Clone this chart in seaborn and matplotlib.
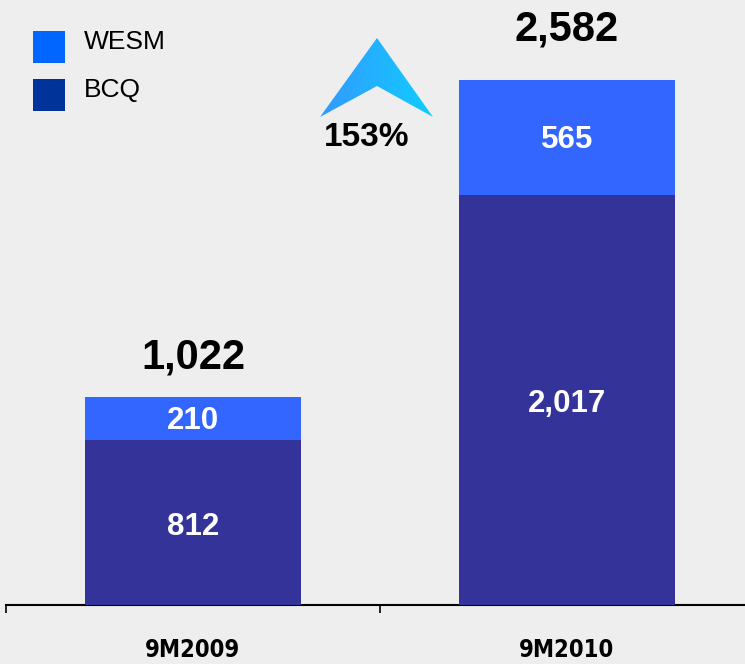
import matplotlib
matplotlib.use("Agg")
import matplotlib.pyplot as plt
import seaborn as sns
import numpy as np
import pandas as pd
from matplotlib.patches import Polygon, Rectangle

# dados do grafico
periodos = ['9M2009', '9M2010']
bcq = [812, 2017]
wesm = [210, 565]
totais = [b + w for b, w in zip(bcq, wesm)]
crescimento = '153%'
series_legenda = ['WESM', 'BCQ']
cores_legenda = ['#0066ff', '#003399']

cor_fundo = '#eeeeee'
cor_bcq = '#333399'
cor_wesm = '#3366ff'

sns.set_style('white')
plt.rcParams['font.family'] = ['Liberation Sans', 'DejaVu Sans']
plt.rcParams['text.color'] = 'black'

df = pd.DataFrame({'periodo': periodos, 'BCQ': bcq, 'WESM': wesm, 'total': totais})

W, H = 745, 664
fig = plt.figure(figsize=(W / 100, H / 100), dpi=100, facecolor=cor_fundo)
ax = fig.add_axes([6 / W, 59 / H, 748 / W, 605 / H])
ax.set_facecolor(cor_fundo)

# barras empilhadas: total (WESM por cima) e BCQ por baixo
sns.barplot(data=df, x='periodo', y='total', color=cor_wesm, width=0.58,
            saturation=1, linewidth=0, ax=ax, zorder=2)
sns.barplot(data=df, x='periodo', y='BCQ', color=cor_bcq, width=0.58,
            saturation=1, linewidth=0, ax=ax, zorder=3)

ax.set_xlim(-0.5, 1.5)
ax.set_ylim(0, 2976)
ax.set_xlabel('')
ax.set_ylabel('')
ax.set_yticks([])

# rotulos dentro das barras
for i in range(len(periodos)):
    ax.annotate(f'{bcq[i]:,}', (i, bcq[i] / 2), xytext=(0, -3),
                textcoords='offset points', ha='center', va='center',
                color='white', fontsize=22.5, fontweight='bold', zorder=5)
    ax.annotate(f'{wesm[i]:,}', (i, bcq[i] + wesm[i] / 2), xytext=(0, -2),
                textcoords='offset points', ha='center', va='center',
                color='white', fontsize=22.5, fontweight='bold', zorder=5)

# totais acima das barras
desloc = [14, 22]
for i in range(len(periodos)):
    ax.annotate(f'{totais[i]:,}', (i, totais[i]), xytext=(0, desloc[i]),
                textcoords='offset points', ha='center', va='bottom',
                fontsize=30, fontweight='bold', color='black')

# eixo x: marcas nas divisoes, rotulos no centro
for s in ['top', 'left', 'right']:
    ax.spines[s].set_visible(False)
ax.spines['bottom'].set_linewidth(1.5)
ax.spines['bottom'].set_color('black')
ax.set_xticks([-0.5, 0.5, 1.5])
ax.set_xticklabels([])
ax.tick_params(axis='x', which='major', direction='out', length=6, width=1.2,
               color='black', bottom=True)
ax.set_xticks([0, 1], minor=True)
ax.set_xticklabels(periodos, minor=True, fontsize=17, fontweight='bold',
                   fontstretch='condensed', color='black',
                   family=['Liberation Sans Narrow', 'DejaVu Sans'])
ax.tick_params(axis='x', which='minor', length=0, pad=24)

# seta de crescimento com degrade
pts = np.array([[377, 38], [433, 117], [377, 86], [320, 117]], dtype=float)
pts[:, 1] = H - pts[:, 1]
pts /= [W, H]
seta = Polygon(pts, closed=True, transform=fig.transFigure, facecolor='none',
               edgecolor='none')
fig.patches.append(seta)
grad = np.linspace(0, 1, 256).reshape(1, -1)
ax_g = fig.add_axes([320 / W, (H - 117) / H, 113 / W, 79 / H])
ax_g.axis('off')
cmap = matplotlib.colors.LinearSegmentedColormap.from_list('g', ['#3399ff', '#11ccff'])
img = ax_g.imshow(grad, aspect='auto', cmap=cmap, extent=[0, 1, 0, 1])
img.set_clip_path(seta)
fig.text(367 / W, 1 - 137 / H, crescimento, ha='center', va='center',
         fontsize=24, fontweight='bold', color='black')

# legenda desenhada a mao (quadrados + texto)
for k, (nome, cor) in enumerate(zip(series_legenda, cores_legenda)):
    topo = 31 + 48 * k
    fig.patches.append(Rectangle((33 / W, 1 - (topo + 32) / H), 32 / W, 32 / H,
                                 transform=fig.transFigure, facecolor=cor,
                                 edgecolor='none'))
    fig.text(84 / W, 1 - (topo + 11) / H, nome, ha='left', va='center',
             fontsize=19, color='black')

fig.savefig('out.png', dpi=100, facecolor=cor_fundo)
